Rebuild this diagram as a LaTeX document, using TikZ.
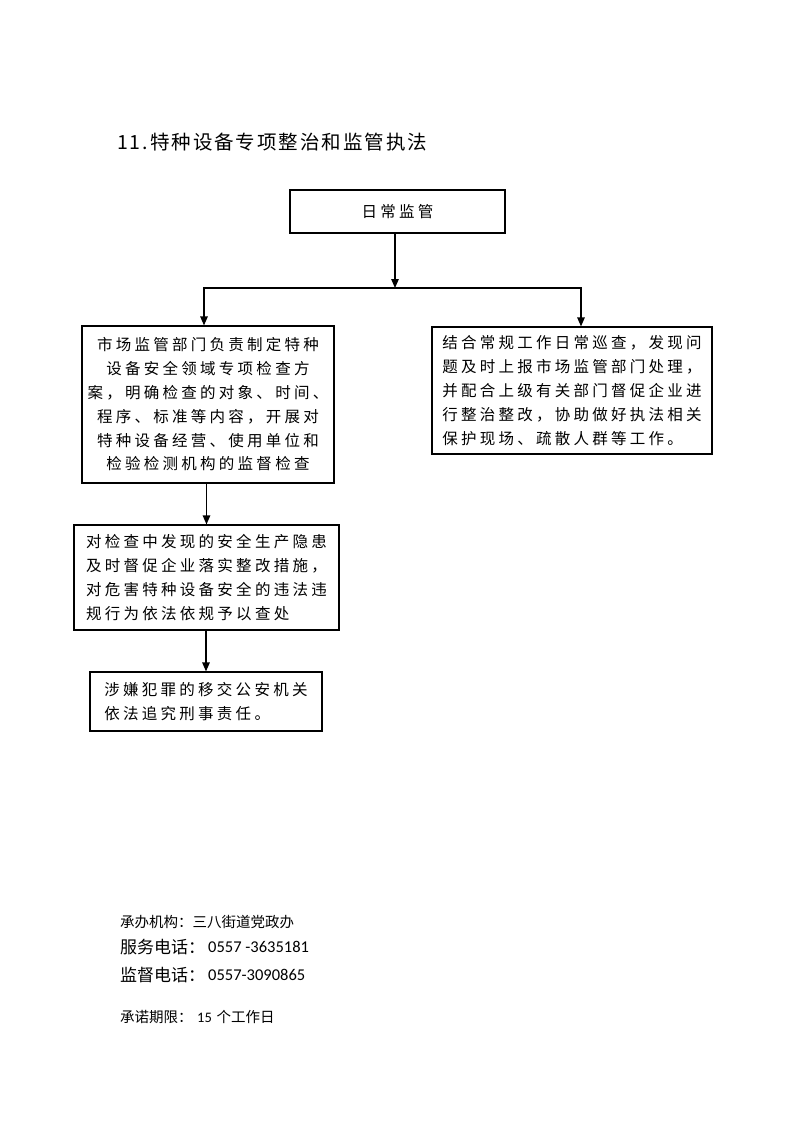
\documentclass[tikz,border=0pt]{standalone}
\usepackage{fontspec}
\usetikzlibrary{arrows.meta}
\newfontfamily\cjkbox{Noto Sans CJK SC}[LetterSpace=21]
\newfontfamily\cjktitle{Noto Sans CJK SC}[LetterSpace=10]
\newfontfamily\cjkplain{Noto Sans CJK SC}
\newfontfamily\latinfoot{Carlito}
\tikzset{
  flowbox/.style={draw, line width=1.2pt, inner sep=0pt, font=\cjkbox\fontsize{15.5}{23.8}\selectfont},
  arr/.style={line width=1.2pt, -{Triangle[length=9pt,width=7.5pt]}},
  link/.style={line width=1.2pt},
  foot/.style={anchor=west, inner sep=0pt}
}
\begin{document}
\begin{tikzpicture}[x=1pt,y=-1pt]
\useasboundingbox (0,0) rectangle (793,1122);
\node[anchor=west, inner sep=0pt, font=\cjktitle\fontsize{19.5}{23}\selectfont] (title) at (117,142) {11.特种设备专项整治和监管执法};

\node[flowbox, minimum width=215pt, minimum height=43pt] (top) at (397.5,211.5) {日常监管};
\node[flowbox, minimum width=252pt, minimum height=157pt, align=center] (b1) at (208,404.5)
  {市场监管部门负责制定特种\\设备安全领域专项检查方\\案，明确检查的对象、时间、\\程序、标准等内容，开展对\\特种设备经营、使用单位和\\检验检测机构的监督检查};
\node[flowbox, minimum width=280pt, minimum height=127pt, align=left] (rb) at (572,390.5)
  {结合常规工作日常巡查，发现问\\题及时上报市场监管部门处理，\\并配合上级有关部门督促企业进\\行整治整改，协助做好执法相关\\保护现场、疏散人群等工作。};
\node[flowbox, minimum width=265pt, minimum height=105pt, align=left] (b2) at (206.5,577.5)
  {对检查中发现的安全生产隐患\\及时督促企业落实整改措施，\\对危害特种设备安全的违法违\\规行为依法依规予以查处};
\node[flowbox, minimum width=232pt, minimum height=59pt, align=left] (b3) at (206,701.5)
  {涉嫌犯罪的移交公安机关\\依法追究刑事责任。};

\coordinate (j) at (395,288);
\coordinate (jl) at (204,288);
\coordinate (jr) at (581,288);
\draw[arr] (top.south -| j) -- (j);
\draw[link] ([xshift=-0.6pt]jl) -- ([xshift=0.6pt]jr);
\draw[arr] (jl) -- (jl |- b1.north);
\draw[arr] (jr) -- (jr |- rb.north);
\draw[arr] (b1.south -| b2.north) -- (b2.north);
\draw[arr] (b2.south -| b3.north) -- (b3.north);

\node[foot, font=\cjkplain\fontsize{14.5}{16}\selectfont] (f1) at (120,922) {承办机构：三八街道党政办};
\node[foot, font=\cjkplain\fontsize{17}{19}\selectfont] (f2) at (120,947) {服务电话：};
\node[foot, font=\latinfoot\fontsize{16.5}{19}\selectfont] (f2n) at (208,947) {0557 -3635181};
\node[foot, font=\cjkplain\fontsize{17}{19}\selectfont] (f3) at (120,975) {监督电话：};
\node[foot, font=\latinfoot\fontsize{16.5}{19}\selectfont] (f3n) at (208,975) {0557-3090865};
\node[foot, font=\cjkplain\fontsize{14.5}{16}\selectfont] (f4) at (120,1017) {承诺期限：};
\node[foot, font=\fontsize{14.5}{16}\selectfont] (f4n) at (197,1017) {{\latinfoot 15} {\cjkplain 个工作日}};
\end{tikzpicture}
\end{document}
